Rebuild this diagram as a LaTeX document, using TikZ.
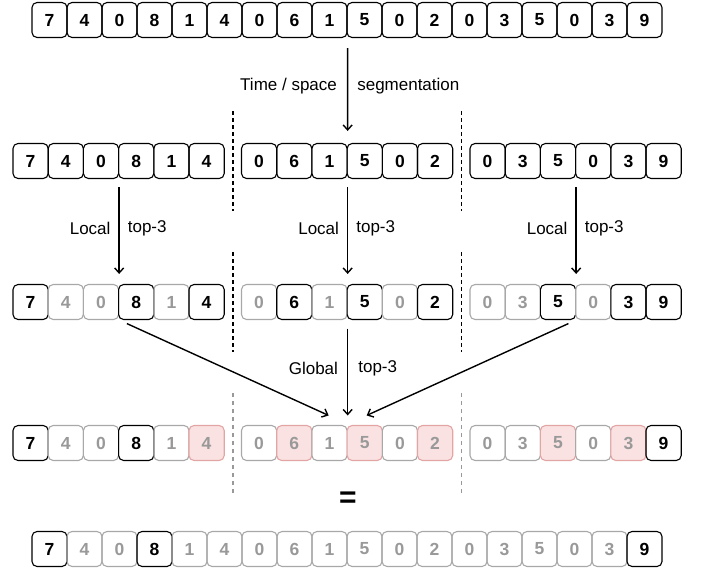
\documentclass[tikz,border=0pt]{standalone}
\usepackage{fontspec}
\setmainfont{Liberation Sans}
\usetikzlibrary{arrows.meta,calc}
\definecolor{fadegray}{HTML}{999999}
\definecolor{fadeline}{HTML}{A8A8A8}
\definecolor{pinkfill}{HTML}{FAE2E2}
\definecolor{pinkline}{HTML}{E3A4A4}
\tikzset{
	cell/.style={draw=black, rounded corners=5pt, minimum width=35pt, minimum height=35pt, inner sep=0pt, line width=1.1pt, font=\fontsize{17.5}{19}\selectfont\bfseries},
	cellfade/.style={cell, draw=fadeline, text=fadegray},
	cellred/.style={cell, draw=pinkline, fill=pinkfill, text=fadegray},
	arr/.style={-{Straight Barb[length=5pt,width=9pt]}, line width=1.4pt},
	lbl/.style={font=\fontsize{17}{19}\selectfont, inner sep=0pt},
	sepline/.style={line width=1.5pt, dash pattern=on 4pt off 3pt},
	sepfade/.style={line width=1.4pt, draw=fadegray, dash pattern=on 4pt off 4pt}
}
\begin{document}
\begin{tikzpicture}[x=1pt,y=-1pt]
					\useasboundingbox (0,0) rectangle (702,571);
					% Input sequence
					\foreach \v [count=\i] in {7,4,0,8,1,4,0,6,1,5,0,2,0,3,5,0,3,9}
						\node[cell] (t\i) at (14.5+35*\i,20) {\v};
					% Segments
					\foreach \v [count=\i] in {7,4,0,8,1,4,0,6,1,5,0,2,0,3,5,0,3,9}{
						\pgfmathsetmacro\xx{30.6+228.5*int((\i-1)/6)+35.2*mod(\i-1,6)}
						\node[cell, minimum width=35.2pt] (a\i) at (\xx,161) {\v};}
					% Local top-3
					\foreach \v/\s [count=\i] in {7/cell,4/cellfade,0/cellfade,8/cell,1/cellfade,4/cell,
						0/cellfade,6/cell,1/cellfade,5/cell,0/cellfade,2/cell,
						0/cellfade,3/cellfade,5/cell,0/cellfade,3/cell,9/cell}{
						\pgfmathsetmacro\xx{30.6+228.5*int((\i-1)/6)+35.2*mod(\i-1,6)}
						\node[\s, minimum width=35.2pt] (b\i) at (\xx,302) {\v};}
					% Global top-3
					\foreach \v/\s [count=\i] in {7/cell,4/cellfade,0/cellfade,8/cell,1/cellfade,4/cellred,
						0/cellfade,6/cellred,1/cellfade,5/cellred,0/cellfade,2/cellred,
						0/cellfade,3/cellfade,5/cellred,0/cellfade,3/cellred,9/cell}{
						\pgfmathsetmacro\xx{30.6+228.5*int((\i-1)/6)+35.2*mod(\i-1,6)}
						\node[\s, minimum width=35.2pt] (c\i) at (\xx,443) {\v};}
					% Result
					\node[font=\fontsize{30}{30}\selectfont\bfseries] (eq) at (348,500) {=};
					\foreach \v/\s [count=\i] in {7/cell,4/cellfade,0/cellfade,8/cell,1/cellfade,4/cellfade,
						0/cellfade,6/cellfade,1/cellfade,5/cellfade,0/cellfade,2/cellfade,
						0/cellfade,3/cellfade,5/cellfade,0/cellfade,3/cellfade,9/cell}
						\node[\s] (d\i) at (14.5+35*\i,549) {\v};
					% Separators
					\foreach \r in {a,b}{
						\draw[sepline] ($(\r6.east)!0.5!(\r7.west)$) ++(0,-50) -- ++(0,100);
						\draw[sepline] ($(\r12.east)!0.5!(\r13.west)$) ++(0,-50) -- ++(0,100);}
					\draw[sepfade] ($(c6.east)!0.5!(c7.west)$) ++(0,-50) -- ++(0,102);
					\draw[sepfade] ($(c12.east)!0.5!(c13.west)$) ++(0,-50) -- ++(0,102);
					% Arrows
					\draw[arr, shorten <=10pt, shorten >=12pt] (t9.south east) -- (a9.north east)
						node[lbl, midway, left=10pt, yshift=4pt] {Time / space}
						node[lbl, midway, right=9pt, yshift=4pt] {segmentation};
					\foreach \k in {3,9,15}
						\draw[arr, shorten <=8pt, shorten >=10pt] (a\k.south east) -- (b\k.north east)
							node[lbl, midway, left=8pt, yshift=3pt] {Local}
							node[lbl, midway, right=8pt, yshift=3pt] {top-3};
					\coordinate (gl) at ($(c9.north east)+(-19,-9.5)$);
					\coordinate (gr) at ($(c9.north east)+(19,-9.5)$);
					\draw[arr, shorten <=8.5pt] (b3.south east) -- (gl);
					\draw[arr, shorten <=8.5pt] (b15.south east) -- (gr);
					\draw[arr, shorten <=8.5pt, shorten >=9.5pt] (b9.south east) -- (c9.north east)
						node[lbl, midway, left=9pt, yshift=4pt] {Global}
						node[lbl, midway, right=10pt, yshift=4pt] {top-3};
				\end{tikzpicture}
\end{document}
